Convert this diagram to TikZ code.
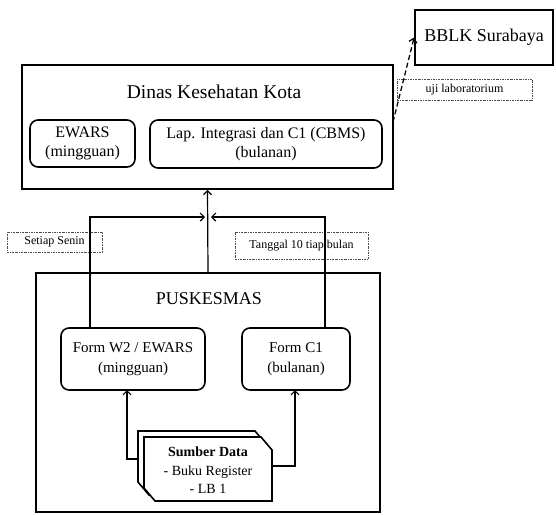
\documentclass[tikz,border=0pt]{standalone}
\usepackage{fontspec}
\setmainfont{Liberation Serif}
\usetikzlibrary{arrows.meta,calc}
\begin{document}
\begin{tikzpicture}[x=1pt,y=-1pt,
  bigbox/.style={draw,line width=1.8pt,rectangle,inner sep=0pt},
  rbox/.style={draw,line width=1.6pt,rounded corners=8pt,inner sep=0pt,align=center,font=\fontsize{15}{19.5}\selectfont},
  lbl/.style={draw=black!70,line width=0.6pt,dash pattern=on 2pt off 1pt on 0.6pt off 1pt,inner sep=0pt,font=\fontsize{12}{14}\selectfont},
  conn/.style={line width=1.2pt,-{Straight Barb[length=4pt,width=8pt]}},
  ttl/.style={inner sep=0pt}]
\useasboundingbox (0,0) rectangle (556,514);
% Dinas
\node[bigbox,minimum width=371pt,minimum height=124pt] (dinas) at (207.5,127) {};
\node[ttl,font=\fontsize{19.5}{22}\selectfont] (dinast) at (214,92) {Dinas Kesehatan Kota};
\node[rbox,font=\fontsize{16}{19}\selectfont,minimum width=105pt,minimum height=47pt] (ewars) at (82.5,143.5) {EWARS\\(mingguan)};
\node[rbox,font=\fontsize{16}{19}\selectfont,minimum width=232pt,minimum height=48pt] (lap) at (266,144) {Lap. Integrasi dan C1 (CBMS)\\(bulanan)};
% BBLK
\node[bigbox,minimum width=138pt,minimum height=55pt,font=\fontsize{18}{20}\selectfont] (bblk) at (484,37.5) {BBLK Surabaya};
\node[lbl,minimum width=135pt,minimum height=21pt] (uji) at (464.5,89.5) {uji laboratorium};
% labels
\node[lbl,minimum width=95pt,minimum height=20pt] (setiap) at (54.5,242) {Setiap Senin};
\node[lbl,minimum width=133pt,minimum height=27pt] (tanggal) at (301.5,245.5) {Tanggal 10 tiap bulan};
% Puskesmas
\node[bigbox,minimum width=344pt,minimum height=239pt] (pusk) at (208,392.5) {};
\node[ttl,font=\fontsize{18}{21}\selectfont] (puskt) at (209,299) {PUSKESMAS};
\node[rbox,minimum width=144pt,minimum height=62pt] (w2) at (133,359) {Form W2 / EWARS\\(mingguan)};
\node[rbox,minimum width=108pt,minimum height=62pt] (c1) at (296,359) {Form C1\\(bulanan)};
% Sumber data shape
\draw[line width=1.6pt,fill=white] (138,431) -- (255,431) -- (266,444) -- (266,495) -- (149,495) -- (138,482) -- cycle;
\draw[line width=1.6pt,fill=white] (144,437) -- (261,437) -- (272,450) -- (272,501) -- (155,501) -- (144,488) -- cycle;
\node[inner sep=0pt,align=center,font=\fontsize{14}{18.5}\selectfont] (src) at (208,470.5) {\textbf{Sumber Data}\\- Buku Register\\- LB 1};
% connectors
\coordinate (mid) at (208,217);
\coordinate (lt) at (90,328);
\coordinate (rt) at (325,328);
\coordinate (sl) at (138,459);
\coordinate (sr) at (272,466);
\coordinate (w2b) at (127,390);
\coordinate (c1b) at (295,390);
\coordinate (d1) at (393,122);
\draw[conn] (pusk.north) -- (dinas.south);
\draw[conn] (lt) |- ([xshift=-3pt]mid);
\draw[conn] (rt) |- ([xshift=3pt]mid);
\draw[conn] (sl) -| (w2b);
\draw[conn] (sr) -| (c1b);
\draw[conn,line width=1.3pt,dash pattern=on 5pt off 3pt] (d1) -- (bblk.west);
\end{tikzpicture}
\end{document}
